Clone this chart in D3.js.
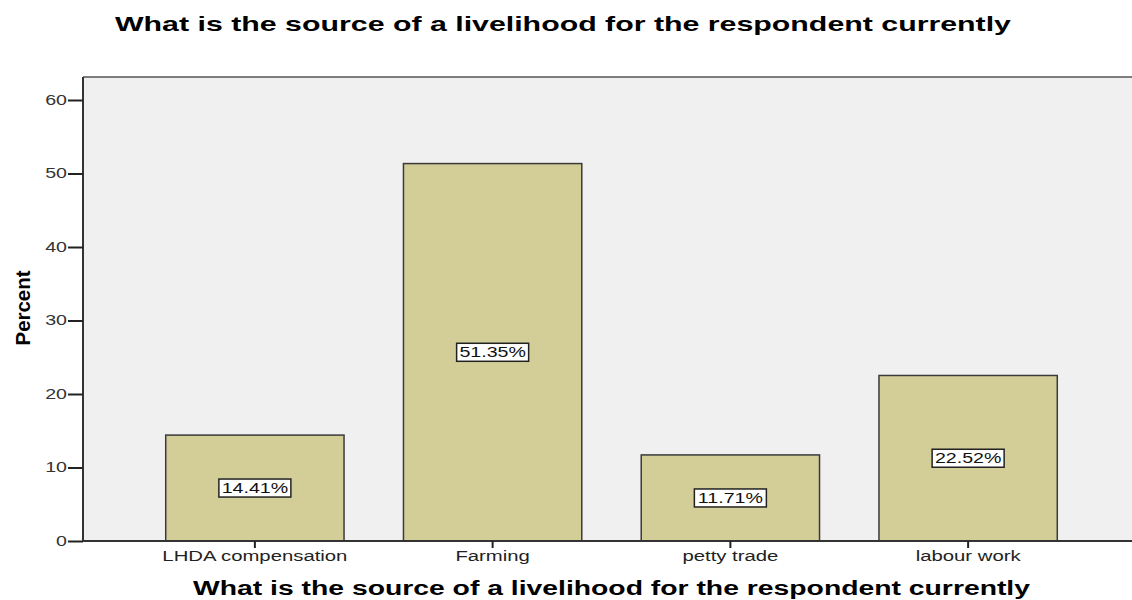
<!DOCTYPE html>
<html>
<head>
<meta charset="utf-8">
<script src="https://cdn.jsdelivr.net/npm/d3@7"></script>
<style>
  body { margin: 0; background: #fff; }
  svg text { font-family: "Liberation Sans", Arial, sans-serif; }
</style>
</head>
<body>
<div id="chart"></div>
<script>
var categories = ["LHDA compensation", "Farming", "petty trade", "labour work"];
var percents = [14.41, 51.35, 11.71, 22.52];
var yTickValues = [0, 10, 20, 30, 40, 50, 60];
var chartTitle = "What is the source of a livelihood for the respondent currently";
var xTitle = "What is the source of a livelihood for the respondent currently";
var yTitle = "Percent";

var w = 1132, h = 600;

var svg = d3.select("#chart")
    .append("svg")
    .attr("width", w)
    .attr("height", h);

var plot = {left: 83, top: 77, right: 1132, bottom: 541};

var x = d3.scaleBand()
    .domain(categories)
    .range([136, 1087])
    .paddingInner(0.25)
    .paddingOuter(0.125);

var y = d3.scaleLinear()
    .domain([0, 60])
    .range([plot.bottom, 100]);

// the original picture is stretched sideways, so widen small texts
function stretch(sel, k) {
    sel.each(function() {
        var len = this.getComputedTextLength();
        d3.select(this)
            .attr("textLength", len * k)
            .attr("lengthAdjust", "spacingAndGlyphs");
    });
}

// plot background
svg.append("rect")
    .attr("x", plot.left)
    .attr("y", plot.top)
    .attr("width", plot.right - plot.left)
    .attr("height", plot.bottom - plot.top)
    .attr("fill", "#f0f0f0");

svg.append("line")
    .attr("x1", plot.left).attr("x2", plot.right)
    .attr("y1", plot.top).attr("y2", plot.top)
    .attr("stroke", "#555")
    .attr("stroke-width", 1.5);

// bars
svg.append("g")
    .selectAll("rect")
    .data(percents)
    .enter()
    .append("rect")
    .attr("x", (d, i) => x(categories[i]))
    .attr("y", d => y(d))
    .attr("width", x.bandwidth())
    .attr("height", d => y(0) - y(d))
    .attr("fill", "#d3ce97")
    .attr("stroke", "#3a3a3a")
    .attr("stroke-width", 1.5);

// value labels in boxes
var lab = svg.append("g")
    .selectAll("g")
    .data(percents)
    .enter()
    .append("g")
    .attr("transform", (d, i) => "translate(" + (x(categories[i]) + x.bandwidth() / 2) + "," + ((y(d) + y(0)) / 2) + ")");

lab.append("rect")
    .attr("x", -36)
    .attr("y", -9)
    .attr("width", 72)
    .attr("height", 18)
    .attr("fill", "#fff")
    .attr("stroke", "#222")
    .attr("stroke-width", 1.5);

var labText = lab.append("text")
    .attr("text-anchor", "middle")
    .attr("dy", "0.36em")
    .attr("font-size", 14)
    .attr("fill", "#111")
    .text(d => d.toFixed(2) + "%");
stretch(labText, 1.4);

// y axis
var yAxis = d3.axisLeft(y)
    .tickValues(yTickValues)
    .tickSizeInner(15)
    .tickSizeOuter(0)
    .tickPadding(1);

var yg = svg.append("g")
    .attr("transform", "translate(" + plot.left + ",0)")
    .call(yAxis);
yg.select(".domain").attr("stroke", "#333").attr("stroke-width", 2)
    .attr("d", "M0," + plot.top + "V" + plot.bottom);
yg.selectAll(".tick line").attr("stroke", "#222").attr("stroke-width", 2);
yg.selectAll(".tick text")
    .attr("font-size", 14)
    .attr("fill", "#333")
    .attr("font-family", "'Liberation Sans', Arial, sans-serif");
stretch(yg.selectAll(".tick text"), 1.4);

// x axis
var xAxis = d3.axisBottom(x)
    .tickSizeInner(7)
    .tickSizeOuter(0)
    .tickPadding(3);

var xg = svg.append("g")
    .attr("transform", "translate(0," + plot.bottom + ")")
    .call(xAxis);
xg.select(".domain").attr("stroke", "#333").attr("stroke-width", 2)
    .attr("d", "M" + plot.left + ",0H" + plot.right);
xg.selectAll(".tick line").attr("stroke", "#222").attr("stroke-width", 2);
xg.selectAll(".tick text")
    .attr("font-size", 14)
    .attr("fill", "#222")
    .attr("font-family", "'Liberation Sans', Arial, sans-serif");
stretch(xg.selectAll(".tick text"), 1.45);

// titles
svg.append("text")
    .attr("x", 115)
    .attr("y", 31)
    .attr("font-size", 21)
    .attr("font-weight", "bold")
    .attr("textLength", 896)
    .attr("lengthAdjust", "spacingAndGlyphs")
    .attr("fill", "#000")
    .text(chartTitle);

svg.append("text")
    .attr("x", 193)
    .attr("y", 595)
    .attr("font-size", 20)
    .attr("font-weight", "bold")
    .attr("font-family", "'DejaVu Sans', Verdana, sans-serif")
    .attr("textLength", 837)
    .attr("lengthAdjust", "spacingAndGlyphs")
    .attr("fill", "#000")
    .text(xTitle);

svg.append("text")
    .attr("transform", "translate(30,308) rotate(-90)")
    .attr("text-anchor", "middle")
    .attr("font-size", 20)
    .attr("font-weight", "bold")
    .attr("textLength", 75)
    .attr("lengthAdjust", "spacingAndGlyphs")
    .attr("fill", "#000")
    .text(yTitle);
</script>
</body>
</html>
